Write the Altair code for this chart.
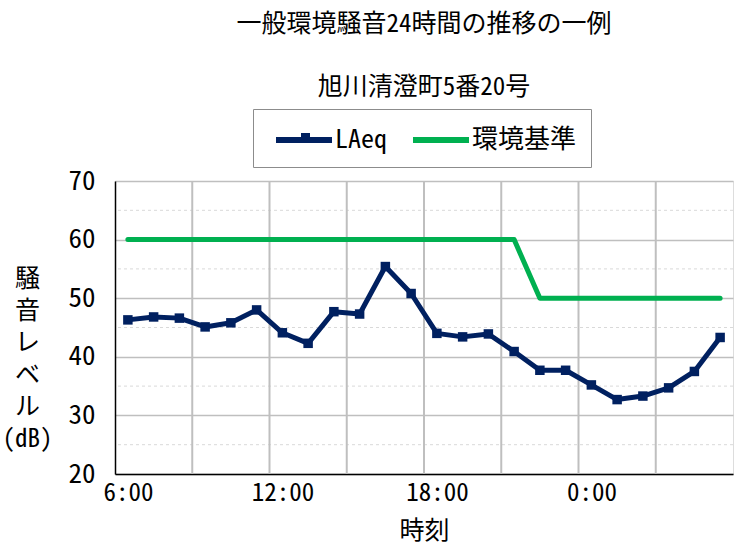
import json
import altair as alt
import pandas as pd

# ---- data ----
times = ["6:00", "7:00", "8:00", "9:00", "10:00", "11:00", "12:00", "13:00",
         "14:00", "15:00", "16:00", "17:00", "18:00", "19:00", "20:00", "21:00",
         "22:00", "23:00", "0:00", "1:00", "2:00", "3:00", "4:00", "5:00"]
laeq = [46.3, 46.8, 46.6, 45.1, 45.8, 48.0, 44.1, 42.3, 47.7, 47.3, 55.4, 50.8,
        44.0, 43.4, 43.9, 40.9, 37.7, 37.7, 35.2, 32.7, 33.3, 34.7, 37.5, 43.3]
standard = [60, 60, 60, 60, 60, 60, 60, 60, 60, 60, 60, 60,
            60, 60, 60, 60, 50, 50, 50, 50, 50, 50, 50, 50]
series_names = ["LAeq", "環境基準"]
series_colors = ["#002060", "#00B050"]
tick_labels = ["6:00", "12:00", "18:00", "0:00"]
grid_hours = ["9:00", "12:00", "15:00", "18:00", "21:00", "0:00", "3:00"]
y_major = [20, 30, 40, 50, 60, 70]
y_minor = [25, 35, 45, 55, 65]

FONT = "Noto Sans Mono CJK JP, Noto Sans CJK JP, DejaVu Sans Mono, sans-serif"

rows = []
for i, t in enumerate(times):
    rows.append({"idx": i, "time": t, "series": series_names[0], "value": laeq[i]})
    rows.append({"idx": i, "time": t, "series": series_names[1], "value": standard[i]})
df = pd.DataFrame(rows)
pts = df[df["series"] == series_names[0]].copy()
pts["marker"] = series_names[0]

vgrid = pd.DataFrame({"pos": [times.index(h) - 0.5 for h in grid_hours]})
hminor = pd.DataFrame({"v": y_minor})

tick_vals = [times.index(t) for t in tick_labels]
label_map = {str(times.index(t)): t for t in tick_labels}
label_expr = json.dumps(label_map) + "[toString(datum.value)]"

xscale = alt.Scale(domain=[-0.5, len(times) - 0.5], nice=False, zero=False)
yscale = alt.Scale(domain=[20, 70], nice=False, zero=False)

xaxis = alt.Axis(values=tick_vals, labelExpr=label_expr, title="時刻", grid=False,
                 ticks=False, domainColor="black", domainWidth=1.5,
                 labelFontSize=25, labelPadding=6, labelFont=FONT, labelColor="black",
                 titleFontSize=25, titleFont=FONT, titleFontWeight="normal",
                 titleColor="black", titlePadding=13, labelFlush=False)
yaxis = alt.Axis(values=y_major, title=["騒", "音", "レ", "ベ", "ル", "(dB)"],
                 grid=True, gridColor="#BFBFBF", gridWidth=1.5, ticks=False,
                 domainColor="black", domainWidth=1.5,
                 labelFontSize=27, labelPadding=20, labelFont=FONT, labelColor="black",
                 titleFontSize=25, titleFont=FONT, titleFontWeight="normal",
                 titleColor="black", titleAngle=0, titleAlign="center",
                 titleBaseline="top", titleX=-88, titleY=85, titleLineHeight=32)

color = alt.Color("series:N", scale=alt.Scale(domain=series_names, range=series_colors),
                  legend=alt.Legend(title=None, orient="none", legendX=138, legendY=-72,
                                    direction="horizontal", symbolType="M-2,0H2",
                                    symbolSize=784, symbolStrokeWidth=6,
                                    symbolOffset=20,
                                    labelFontSize=26, labelFont=FONT, labelColor="black",
                                    strokeColor="#8c8c8c", padding=14, columnPadding=13,
                                    labelOffset=14))

minor = alt.Chart(hminor).mark_rule(color="#D9D9D9", strokeWidth=1, strokeDash=[3, 3]).encode(
    y=alt.Y("v:Q", scale=yscale, axis=yaxis)
)
vlines = alt.Chart(vgrid).mark_rule(color="#BFBFBF", strokeWidth=2).encode(
    x=alt.X("pos:Q", scale=xscale, axis=xaxis)
)
lines = alt.Chart(df).mark_line(strokeWidth=5, strokeCap="round", strokeJoin="round").encode(
    x=alt.X("idx:Q", scale=xscale, axis=xaxis),
    y=alt.Y("value:Q", scale=yscale, axis=yaxis),
    color=color,
    order="idx:Q",
)
points = alt.Chart(pts).mark_point(filled=True, size=90, opacity=1).encode(
    x=alt.X("idx:Q", scale=xscale, axis=xaxis),
    y=alt.Y("value:Q", scale=yscale, axis=yaxis),
    color=alt.Color("series:N", scale=alt.Scale(domain=series_names, range=series_colors),
                    legend=None),
    shape=alt.Shape("marker:N", scale=alt.Scale(domain=[series_names[0]], range=["square"]),
                    legend=alt.Legend(title=None, orient="none", legendX=186, legendY=-48,
                                      symbolSize=81, symbolFillColor=series_colors[0],
                                      symbolStrokeColor=series_colors[0], symbolStrokeWidth=0,
                                      labelExpr="''", labelFontSize=1, labelOffset=0,
                                      padding=0, symbolOffset=0)),
)

chart = alt.layer(minor, vlines, lines, points).properties(
    width=618,
    height=293,
    autosize=alt.AutoSizeParams(type="none"),
    padding={"left": 115, "top": 181, "right": 1, "bottom": 72},
    title=alt.Title(text="一般環境騒音24時間の推移の一例", subtitle="旭川清澄町5番20号",
                    fontSize=25, subtitleFontSize=25, font=FONT, subtitleFont=FONT,
                    fontWeight="normal", color="black", subtitleColor="black",
                    anchor="middle", frame="group", offset=9, subtitlePadding=38),
).configure_view(stroke=None).configure(background="white")

chart.save("out.html", embed_options={"renderer": "svg", "actions": False})
